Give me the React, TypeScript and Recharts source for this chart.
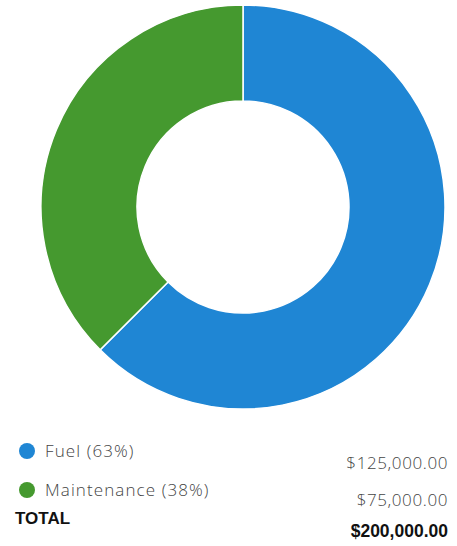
import React from 'react';
import { PieChart, Pie, Cell } from 'recharts';

const categories = ['Fuel', 'Maintenance'];
const amounts = [125000, 75000];
const colors = ['#1f86d4', '#45992f'];

const total = amounts.reduce((a, b) => a + b, 0);
const pieData = categories.map((name, i) => ({ name, value: amounts[i] }));

const fmt = (v: number) =>
  '$' + v.toLocaleString('en-US', { minimumFractionDigits: 2, maximumFractionDigits: 2 });

const legendFont = '"Open Sans", "Noto Sans", sans-serif';
const boldFont = '"Liberation Sans", Arial, sans-serif';

// row positions (center y) for label and value columns
const labelY = [451, 490];
const valueY = [463, 500];

export default function App() {
  return (
    <div style={{ position: 'fixed', left: 0, top: 0, width: 457, height: 546, background: '#fff' }}>
      <PieChart width={457} height={420} margin={{ top: 0, right: 0, bottom: 0, left: 0 }}>
        <Pie
          data={pieData}
          dataKey="value"
          cx={243}
          cy={207}
          innerRadius={106}
          outerRadius={202}
          startAngle={90}
          endAngle={-270}
          stroke="#fff"
          strokeWidth={1.5}
          isAnimationActive={false}
        >
          {pieData.map((_, i) => (
            <Cell key={i} fill={colors[i]} />
          ))}
        </Pie>
      </PieChart>
      {pieData.map((d, i) => (
        <React.Fragment key={d.name}>
          <div
            style={{
              position: 'absolute', left: 19, top: labelY[i] - 8, width: 16, height: 16,
              borderRadius: '50%', background: colors[i],
            }}
          />
          <div
            style={{
              position: 'absolute', left: 45, top: labelY[i] - 12, height: 24, lineHeight: '24px',
              fontFamily: legendFont, fontSize: 17, fontWeight: 300, color: '#444',
              letterSpacing: 1.1, whiteSpace: 'nowrap',
            }}
          >
            {d.name} ({Math.round((d.value / total) * 100)}%)
          </div>
          <div
            style={{
              position: 'absolute', right: 9, top: valueY[i] - 12, height: 24, lineHeight: '24px',
              fontFamily: legendFont, fontSize: 17, fontWeight: 300, color: '#444',
              letterSpacing: 0.6, whiteSpace: 'nowrap',
            }}
          >
            {fmt(d.value)}
          </div>
        </React.Fragment>
      ))}
      <div
        style={{
          position: 'absolute', left: 15, top: 507, height: 24, lineHeight: '24px',
          fontFamily: boldFont, fontSize: 17, fontWeight: 700, color: '#111',
        }}
      >
        TOTAL
      </div>
      <div
        style={{
          position: 'absolute', right: 9, top: 519, height: 24, lineHeight: '24px',
          fontFamily: boldFont, fontSize: 17.5, fontWeight: 700, color: '#111',
        }}
      >
        {fmt(total)}
      </div>
    </div>
  );
}
